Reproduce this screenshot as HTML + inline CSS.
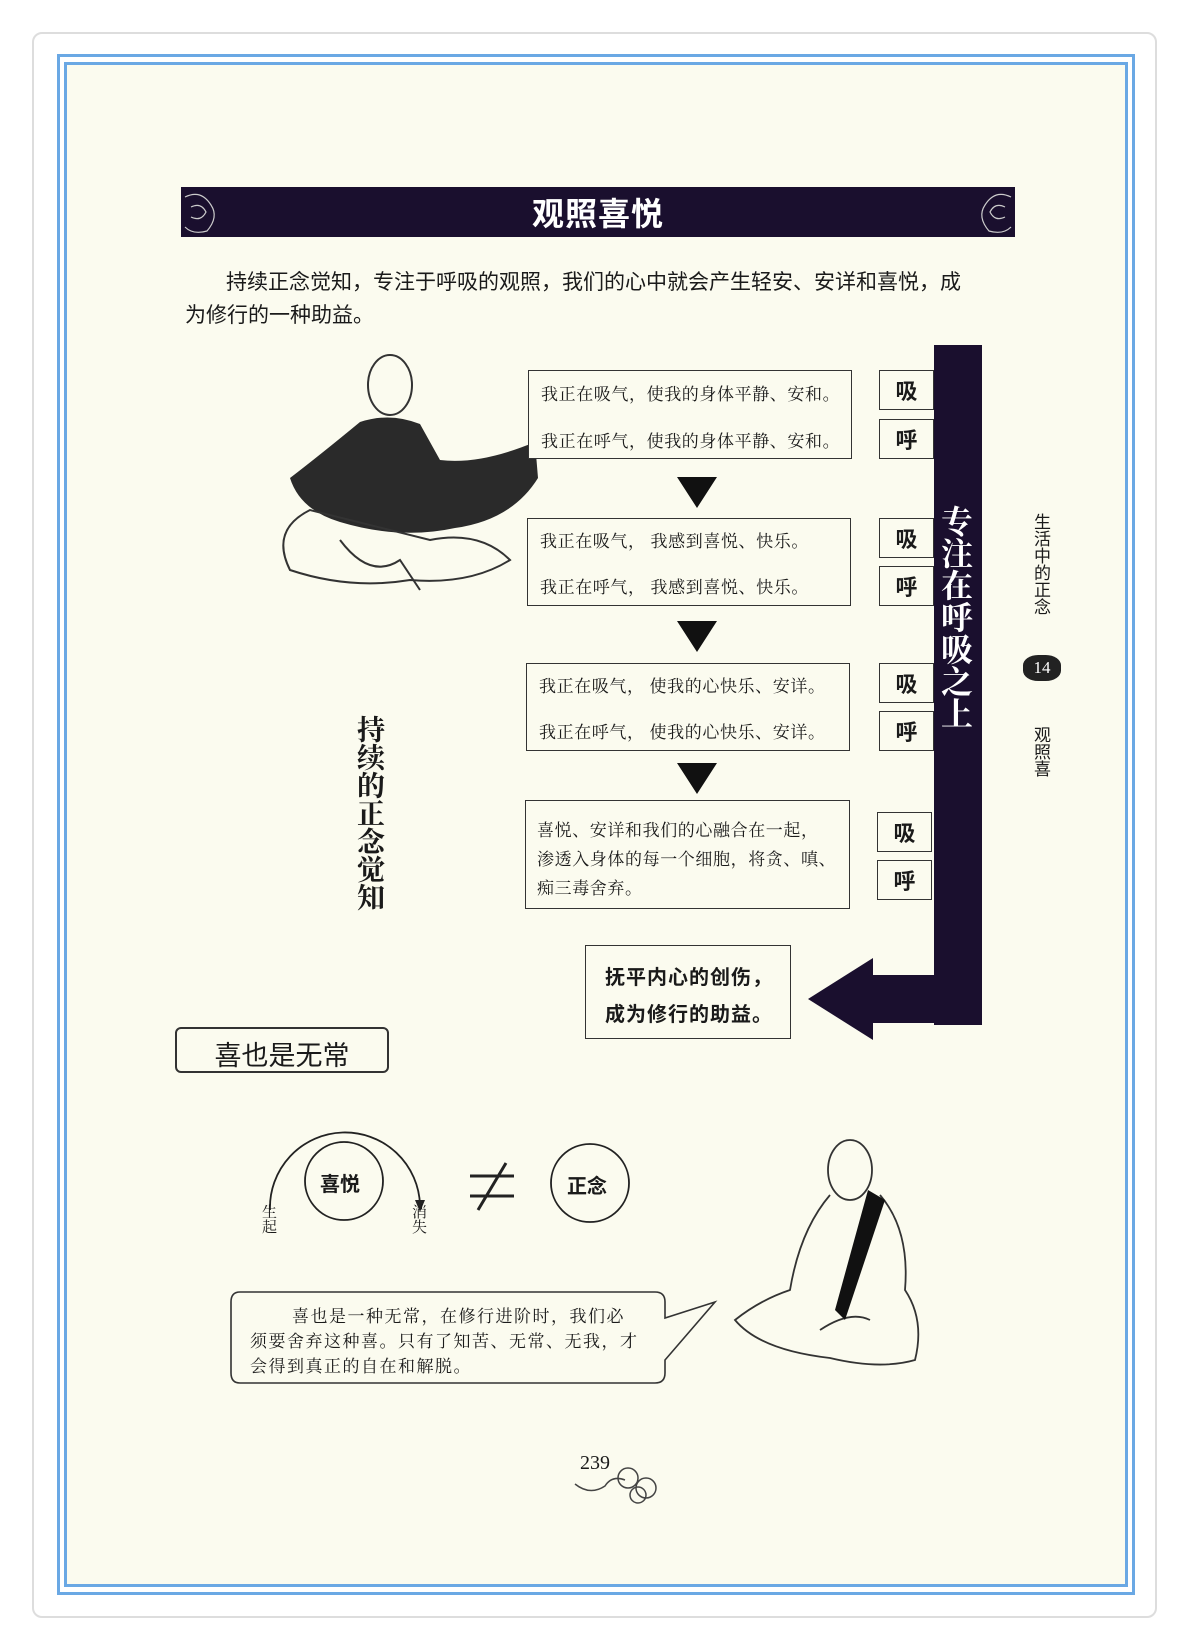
<!DOCTYPE html>
<html><head><meta charset="utf-8"><style>
*{margin:0;padding:0;box-sizing:border-box}
body{width:1188px;height:1649px;background:#fff;position:relative;overflow:hidden;font-family:"Liberation Sans","Noto Sans CJK SC",sans-serif;color:#1a1a1a}
.a{position:absolute}
.card{left:32px;top:32px;width:1125px;height:1586px;border:2px solid #ddd;border-radius:10px;background:#fff}
.b1{left:57px;top:54px;width:1078px;height:1541px;border:3px solid #6aa8e4}
.b2{left:64px;top:62px;width:1064px;height:1525px;border:3px solid #6aa8e4;background:#fbfbef}
.box{border:1.5px solid #333;background:#fbfbef}
.t{font-size:17px;white-space:nowrap;font-family:"Noto Serif CJK SC","Liberation Serif",serif;letter-spacing:0.6px}
.sm{border:1.5px solid #333;font-size:22px;font-weight:bold;display:flex;align-items:center;justify-content:center;width:55px;height:40px}
.v{writing-mode:vertical-rl;white-space:nowrap}
</style></head><body>
<div class="a card"></div>
<div class="a b1"></div>
<div class="a b2"></div>

<div class="a" style="left:181px;top:187px;width:834px;height:50px;background:#1a0f2e"></div>
<svg class="a" style="left:181px;top:187px" width="834" height="50"><g fill="none" stroke="#ccc" stroke-width="1.2">
<path d="M4 10 Q20 2 30 18 Q38 30 26 44 Q12 48 4 40 M10 20 Q20 15 25 25 Q20 35 10 30"/>
<path d="M830 10 Q814 2 804 18 Q796 30 808 44 Q822 48 830 40 M824 20 Q814 15 809 25 Q814 35 824 30"/></g></svg>
<div class="a" style="left:181px;top:189px;width:834px;text-align:center;color:#fff;font-size:32px;font-weight:bold;letter-spacing:1px">观照喜悦</div>

<div class="a" style="left:226px;top:266px;font-size:21px;white-space:nowrap">持续正念觉知，专注于呼吸的观照，我们的心中就会产生轻安、安详和喜悦，成</div>
<div class="a" style="left:185px;top:299px;font-size:21px;white-space:nowrap">为修行的一种助益。</div>

<!-- upper monk -->
<svg class="a" style="left:250px;top:350px" width="310" height="265">
<ellipse cx="140" cy="35" rx="22" ry="30" fill="none" stroke="#333" stroke-width="2"/>
<path d="M110 72 Q140 62 170 74 L190 110 Q230 115 285 92 L288 128 Q262 170 205 178 Q150 190 90 172 Q50 160 40 128 Q70 105 110 72Z" fill="#2a2a2a"/>
<path d="M60 160 Q20 180 40 220 Q100 240 160 230 Q220 235 260 210 Q230 180 180 190Z" fill="none" stroke="#333" stroke-width="2"/>
<path d="M90 190 Q120 230 150 210 L170 240" fill="none" stroke="#333" stroke-width="2"/>
</svg>

<!-- flow boxes -->
<div class="a box" style="left:528px;top:370px;width:324px;height:89px"></div>
<div class="a t" style="left:541px;top:380px">我正在吸气，使我的身体平静、安和。</div>
<div class="a t" style="left:541px;top:427px">我正在呼气，使我的身体平静、安和。</div>
<div class="a box" style="left:527px;top:518px;width:324px;height:88px"></div>
<div class="a t" style="left:540px;top:527px">我正在吸气， 我感到喜悦、快乐。</div>
<div class="a t" style="left:540px;top:573px">我正在呼气， 我感到喜悦、快乐。</div>
<div class="a box" style="left:526px;top:663px;width:324px;height:88px"></div>
<div class="a t" style="left:539px;top:672px">我正在吸气， 使我的心快乐、安详。</div>
<div class="a t" style="left:539px;top:718px">我正在呼气， 使我的心快乐、安详。</div>
<div class="a box" style="left:525px;top:800px;width:325px;height:109px"></div>
<div class="a t" style="left:537px;top:816px">喜悦、安详和我们的心融合在一起，</div>
<div class="a t" style="left:537px;top:845px">渗透入身体的每一个细胞，将贪、嗔、</div>
<div class="a t" style="left:537px;top:874px">痴三毒舍弃。</div>

<svg class="a" style="left:0;top:0" width="1188" height="1649">
<polygon points="677,477 717,477 697,508" fill="#111"/>
<polygon points="677,621 717,621 697,652" fill="#111"/>
<polygon points="677,763 717,763 697,794" fill="#111"/>
<rect x="934" y="345" width="48" height="680" fill="#1a0f2e"/>
<rect x="873" y="975" width="109" height="48" fill="#1a0f2e"/>
<polygon points="808,999 873,958 873,1040" fill="#1a0f2e"/>
<path d="M270 1210 A75 75 0 0 1 420 1205" fill="none" stroke="#222" stroke-width="1.8"/>
<polygon points="415,1200 425,1200 420,1212" fill="#222"/>
<circle cx="344" cy="1181" r="39" fill="none" stroke="#222" stroke-width="1.8"/>
<circle cx="590" cy="1183" r="39" fill="none" stroke="#222" stroke-width="1.8"/>
<line x1="470" y1="1176" x2="514" y2="1176" stroke="#222" stroke-width="3"/>
<line x1="470" y1="1196" x2="514" y2="1196" stroke="#222" stroke-width="3"/>
<line x1="506" y1="1163" x2="478" y2="1210" stroke="#222" stroke-width="3"/>
<path d="M240 1292 L655 1292 Q665 1292 665 1302 L665 1318 L715 1302 L665 1360 L665 1373 Q665 1383 655 1383 L240 1383 Q231 1383 231 1373 L231 1302 Q231 1292 240 1292Z" fill="#fbfbef" stroke="#333" stroke-width="1.6"/>
<g fill="none" stroke="#333" stroke-width="1.8">
<ellipse cx="850" cy="1170" rx="22" ry="30"/>
<path d="M830 1195 Q800 1230 790 1290 Q760 1300 735 1320 Q760 1350 830 1358 Q880 1370 915 1360 Q925 1320 905 1290 Q910 1230 880 1195"/>
<path d="M820 1330 Q850 1310 870 1320"/>
</g>
<path d="M868 1190 L885 1200 L845 1320 L835 1310Z" fill="#111"/>
<g fill="none" stroke="#444" stroke-width="1.5"><path d="M575 1484 Q590 1496 605 1486 Q612 1475 625 1480"/><circle cx="628" cy="1478" r="10"/><circle cx="646" cy="1488" r="10"/><circle cx="638" cy="1495" r="8"/></g>
</svg>

<div class="a sm" style="left:879px;top:370px">吸</div>
<div class="a sm" style="left:879px;top:419px">呼</div>
<div class="a sm" style="left:879px;top:518px">吸</div>
<div class="a sm" style="left:879px;top:566px">呼</div>
<div class="a sm" style="left:879px;top:663px">吸</div>
<div class="a sm" style="left:879px;top:711px">呼</div>
<div class="a sm" style="left:877px;top:812px">吸</div>
<div class="a sm" style="left:877px;top:860px">呼</div>

<div class="a v" style="left:940px;top:505px;color:#fff;font-size:32px;font-weight:bold;font-family:'Noto Serif CJK SC',serif;line-height:34px">专注在呼吸之上</div>

<div class="a box" style="left:585px;top:945px;width:206px;height:94px"></div>
<div class="a" style="left:605px;top:961px;font-size:20px;font-weight:bold;white-space:nowrap;letter-spacing:1px">抚平内心的创伤，</div>
<div class="a" style="left:605px;top:998px;font-size:20px;font-weight:bold;white-space:nowrap;letter-spacing:1px">成为修行的助益。</div>

<div class="a v" style="left:356px;top:715px;font-size:28px;font-weight:bold;font-family:'Noto Serif CJK SC',serif;line-height:30px">持续的正念觉知</div>

<div class="a" style="left:175px;top:1027px;width:214px;height:46px;border:2px solid #333;border-radius:6px"></div>
<div class="a" style="left:175px;top:1034px;width:214px;text-align:center;font-size:27px;white-space:nowrap">喜也是无常</div>

<div class="a" style="left:320px;top:1168px;font-size:20px;font-weight:bold">喜悦</div>
<div class="a" style="left:567px;top:1170px;font-size:20px;font-weight:bold">正念</div>
<div class="a v" style="left:259px;top:1204px;font-size:15px;font-family:'Noto Serif CJK SC',serif">生起</div>
<div class="a v" style="left:409px;top:1204px;font-size:15px;font-family:'Noto Serif CJK SC',serif">消失</div>

<div class="a t" style="left:292px;top:1302px;font-size:17px;letter-spacing:1.5px">喜也是一种无常，在修行进阶时，我们必</div>
<div class="a t" style="left:250px;top:1327px;font-size:17px;letter-spacing:1.5px">须要舍弃这种喜。只有了知苦、无常、无我，才</div>
<div class="a t" style="left:250px;top:1352px;font-size:17px;letter-spacing:1.5px">会得到真正的自在和解脱。</div>

<div class="a" style="left:580px;top:1452px;font-size:20px;font-family:'Liberation Serif',serif">239</div>

<div class="a v" style="left:1030px;top:513px;font-size:17px;line-height:20px">生活中的正念</div>
<div class="a" style="left:1023px;top:655px;width:38px;height:26px;background:#222;color:#fff;font-size:17px;text-align:center;line-height:26px;border-radius:40%;font-family:'Liberation Serif',serif">14</div>
<div class="a v" style="left:1030px;top:726px;font-size:17px;line-height:20px">观照喜</div>
</body></html>
